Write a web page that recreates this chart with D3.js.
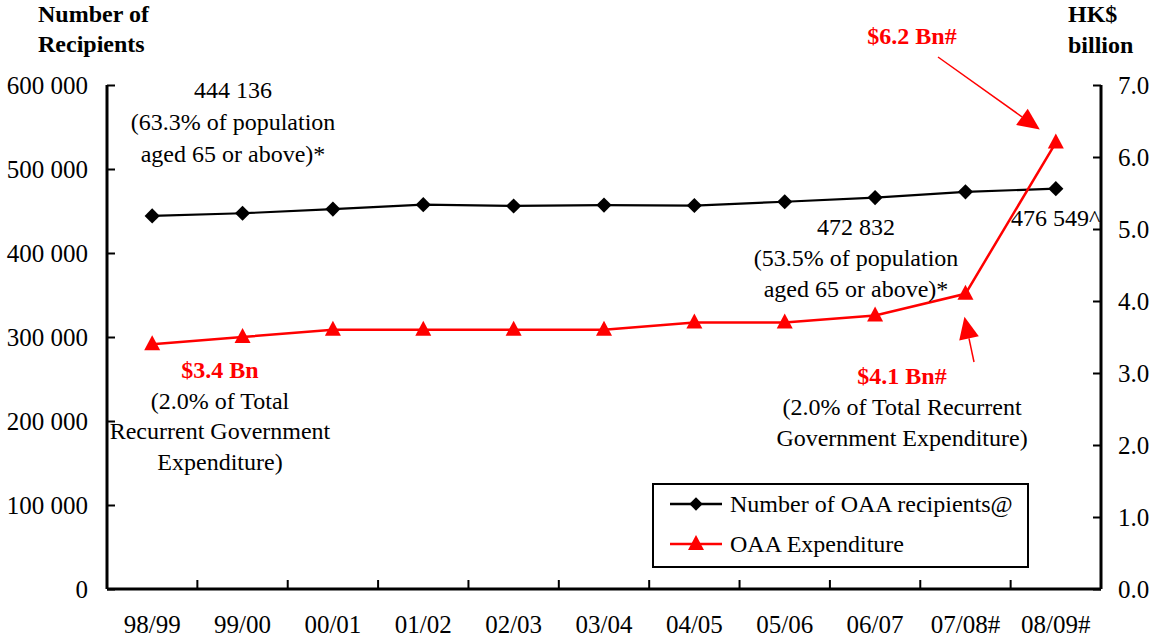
<!DOCTYPE html>
<html>
<head>
<meta charset="utf-8">
<script src="https://cdn.jsdelivr.net/npm/d3@7"></script>
<style>
  body { margin: 0; background: #fff; }
  svg { display: block; font-family: "Liberation Serif", "Times New Roman", serif; }
</style>
</head>
<body>
<svg id="chart" width="1155" height="639"></svg>
<script>
// data
var years = ["98/99", "99/00", "00/01", "01/02", "02/03", "03/04", "04/05", "05/06", "06/07", "07/08#", "08/09#"];
var recipients = [444136, 447300, 452300, 457500, 456000, 457000, 456500, 461000, 466000, 472832, 476549];
var expenditure = [3.4, 3.5, 3.6, 3.6, 3.6, 3.6, 3.7, 3.7, 3.8, 4.1, 6.2];
var leftTicks = [0, 100000, 200000, 300000, 400000, 500000, 600000];
var rightTicks = [0, 1, 2, 3, 4, 5, 6, 7];
var seriesNames = ["Number of OAA recipients@", "OAA Expenditure"];

var svg = d3.select("#chart");
var red = "#ff0000";
var fs = 25;   // tick labels
var fa = 24;   // annotations

var x = d3.scaleBand()
    .domain(years)
    .range([107, 1101])
    .padding(0);

var yL = d3.scaleLinear().domain([0, 600000]).range([589, 85]);
var yR = d3.scaleLinear().domain([0, 7]).range([589, 85]);

function cx(i) { return x(years[i]) + x.bandwidth() / 2; }
function fmtSpace(d) { return d3.format(",")(d).replace(/,/g, " "); }

// axes
var left = svg.append("g")
    .attr("transform", "translate(107,0)")
    .call(d3.axisRight(yL).tickValues(leftTicks).tickSize(8).tickFormat(""));
var right = svg.append("g")
    .attr("transform", "translate(1101,0)")
    .call(d3.axisLeft(yR).tickValues(rightTicks).tickSize(8).tickFormat(""));
var bottom = svg.append("g")
    .attr("transform", "translate(0,589)")
    .call(d3.axisTop(x).tickValues(years.slice(1)).tickSize(9).tickFormat("").offset(0));
bottom.selectAll(".tick").attr("transform", function(d) { return "translate(" + x(d) + ",0)"; });

[left, right, bottom].forEach(function(g) {
  g.select(".domain").attr("stroke", "#000").attr("stroke-width", 3);
  g.selectAll(".tick line").attr("stroke", "#000").attr("stroke-width", 2);
});
left.select(".domain").attr("d", "M0,85V589");
right.select(".domain").attr("d", "M0,85V589");
bottom.select(".domain").attr("d", "M107,0H1101");

svg.append("g").selectAll("text")
  .data(leftTicks).join("text")
    .attr("x", 88)
    .attr("y", d => yL(d) + 9)
    .attr("text-anchor", "end")
    .style("font-size", fs + "px")
    .text(d => d === 0 ? "0" : fmtSpace(d));

svg.append("g").selectAll("text")
  .data(rightTicks).join("text")
    .attr("x", 1118)
    .attr("y", d => yR(d) + 9)
    .style("font-size", fs + "px")
    .text(d => d.toFixed(1));

svg.append("g").selectAll("text")
  .data(years).join("text")
    .attr("x", (d, i) => cx(i))
    .attr("y", 633)
    .attr("text-anchor", "middle")
    .style("font-size", fs + "px")
    .text(d => d);

// axis titles
var titles = svg.append("g").style("font-size", "24px").style("font-weight", "bold");
titles.append("text").attr("x", 38).attr("y", 22).text("Number of");
titles.append("text").attr("x", 38).attr("y", 52).text("Recipients");
titles.append("text").attr("x", 1068).attr("y", 22).text("HK$");
titles.append("text").attr("x", 1068).attr("y", 53).text("billion");

// series
var diamond = d3.symbol(d3.symbolSquare, 115);
var tri = "M0,-9L8,6L-8,6Z";

svg.append("path")
    .datum(recipients)
    .attr("fill", "none")
    .attr("stroke", "#000")
    .attr("stroke-width", 2.2)
    .attr("d", d3.line().x((d, i) => cx(i)).y(d => yL(d)));

svg.append("path")
    .datum(expenditure)
    .attr("fill", "none")
    .attr("stroke", red)
    .attr("stroke-width", 2.5)
    .attr("d", d3.line().x((d, i) => cx(i)).y(d => yR(d)));

svg.append("g").selectAll("path")
  .data(recipients).join("path")
    .attr("d", diamond)
    .attr("transform", (d, i) => "translate(" + cx(i) + "," + yL(d) + ") rotate(45)")
    .attr("fill", "#000");

svg.append("g").selectAll("path")
  .data(expenditure).join("path")
    .attr("d", tri)
    .attr("transform", (d, i) => "translate(" + cx(i) + "," + yR(d) + ")")
    .attr("fill", red);

// annotations
function block(cxp, y0, lines, step, anchor) {
  var g = svg.append("g").style("font-size", fa + "px");
  lines.forEach(function(l, k) {
    g.append("text")
      .attr("x", cxp)
      .attr("y", y0 + k * step)
      .attr("text-anchor", anchor || "middle")
      .attr("fill", l.red ? red : "#000")
      .style("font-weight", l.red ? "bold" : null)
      .text(l.t);
  });
}

block(233, 98, [{t: fmtSpace(recipients[0])}, {t: "(63.3% of population"}, {t: "aged 65 or above)*"}], 32);
block(856, 235, [{t: fmtSpace(recipients[9])}, {t: "(53.5% of population"}, {t: "aged 65 or above)*"}], 31);
block(1011, 226, [{t: fmtSpace(recipients[10]) + "^"}], 0, "start");
block(220, 378, [{t: "$" + expenditure[0] + " Bn", red: true}, {t: "(2.0% of Total"}, {t: "Recurrent Government"}, {t: "Expenditure)"}], 30.5);
block(902, 384, [{t: "$" + expenditure[9] + " Bn#", red: true}, {t: "(2.0% of Total Recurrent"}, {t: "Government Expenditure)"}], 31);
block(912, 44, [{t: "$" + expenditure[10] + " Bn#", red: true}], 0);

// arrows
function arrow(x1, y1, x2, y2) {
  var a = Math.atan2(y2 - y1, x2 - x1);
  var len = 22, w = 10;
  var bx = x2 - len * Math.cos(a), by = y2 - len * Math.sin(a);
  svg.append("line")
    .attr("x1", x1).attr("y1", y1).attr("x2", bx).attr("y2", by)
    .attr("stroke", red).attr("stroke-width", 1.5);
  svg.append("path")
    .attr("d", "M" + x2 + "," + y2 +
      "L" + (bx + w * Math.sin(a)) + "," + (by - w * Math.cos(a)) +
      "L" + (bx - w * Math.sin(a)) + "," + (by + w * Math.cos(a)) + "Z")
    .attr("fill", red);
}
arrow(938, 57, cx(10) - 16, yR(expenditure[10]) - 13);
arrow(974, 362, cx(9) - 1, yR(expenditure[9]) + 23);

// legend
var lg = svg.append("g");
lg.append("rect")
    .attr("x", 653).attr("y", 484).attr("width", 375).attr("height", 83)
    .attr("fill", "#fff").attr("stroke", "#000").attr("stroke-width", 2);
seriesNames.forEach(function(name, k) {
  var yy = 504 + k * 40;
  var col = k === 0 ? "#000" : red;
  lg.append("line").attr("x1", 670).attr("x2", 722).attr("y1", yy).attr("y2", yy)
    .attr("stroke", col).attr("stroke-width", 2.5);
  if (k === 0) {
    lg.append("path").attr("d", d3.symbol(d3.symbolSquare, 90))
      .attr("transform", "translate(696," + yy + ") rotate(45)").attr("fill", col);
  } else {
    lg.append("path").attr("d", tri)
      .attr("transform", "translate(696," + yy + ")").attr("fill", col);
  }
  lg.append("text").attr("x", 730).attr("y", yy + 8)
    .style("font-size", "24px").text(name);
});
</script>
</body>
</html>
